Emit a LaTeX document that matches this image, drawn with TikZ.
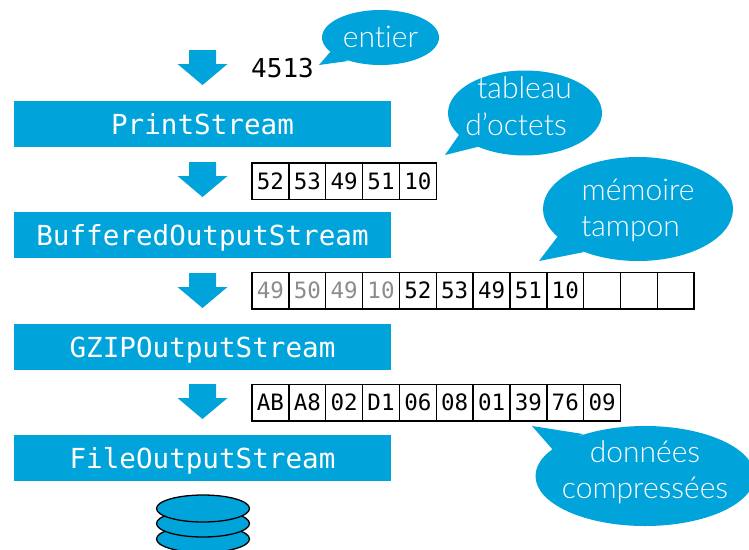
\documentclass[tikz,border=0pt]{standalone}
\usepackage{fontspec}
\setmainfont{Lato Light}[Ligatures=NoCommon]
\setmonofont{DejaVu Sans Mono}
\usetikzlibrary{shapes.geometric}
\definecolor{fillColor}{RGB}{0,163,218}
\definecolor{fadeColor}{RGB}{140,140,140}
\tikzset{
  streambar/.style={fill=fillColor,text=white,inner sep=0pt,text width=377pt,align=center,text height=33.5pt,text depth=12.5pt,
    font=\fontsize{27.6}{30}\selectfont\ttfamily},
  bytecell/.style={draw=black,line width=1.5pt,fill=white,inner sep=0pt,minimum width=36.85pt,minimum height=36.5pt,
    font=\fontsize{22.5}{24}\selectfont\ttfamily},
  bubble/.style={ellipse,fill=fillColor,inner sep=0pt},
  bubbletext/.style={text=white,inner sep=0pt,anchor=base,font=\fontsize{30}{32}\selectfont},
  disk/.style={ellipse,draw=black,line width=1.3pt,fill=fillColor,inner sep=0pt,minimum width=93pt,minimum height=27pt},
}
\begin{document}
\begin{tikzpicture}[x=1pt,y=-1pt]
\useasboundingbox (0,0) rectangle (749,549);
% arrows between the streams
\foreach \ytop in {50,162,273,384}
  \path[fill=fillColor] (189,\ytop) -- (216,\ytop) -- (216,\ytop+14) -- (227.5,\ytop+14)
    -- (202.5,\ytop+35) -- (177.5,\ytop+14) -- (189,\ytop+14) -- cycle;
% streams
\node[streambar] (print) at (202.5,124) {PrintStream};
\node[streambar] (buffered) at (202.5,235) {BufferedOutputStream};
\node[streambar] (gzip) at (202.5,347) {GZIPOutputStream};
\node[streambar] (file) at (202.5,458) {FileOutputStream};
% value
\node[inner sep=0pt,anchor=base west,font=\fontsize{26}{28}\selectfont\ttfamily] (value) at (251,77) {4513};
% byte rows
\foreach \val [count=\i] in {52,53,49,51,10}
  \node[bytecell] (a\i) at (252+36.85*\i-18.4,181) {\val};
\foreach \val/\col [count=\i] in {49/fadeColor,50/fadeColor,49/fadeColor,10/fadeColor,52/black,53/black,49/black,51/black,10/black,/black,/black,/black}
  \node[bytecell,text=\col] (b\i) at (252+36.85*\i-18.4,290.5) {\val};
\foreach \val [count=\i] in {AB,A8,02,D1,06,08,01,39,76,09}
  \node[bytecell] (c\i) at (252+36.85*\i-18.4,402.5) {\val};
% disks
\node[disk] (disk3) at (203,539) {};
\node[disk] (disk2) at (203,523.5) {};
\node[disk] (disk1) at (203,508.5) {};
% speech bubbles
\path[fill=fillColor] (319,65) -- (331,51) -- (348,61) -- cycle;
\node[bubble,minimum width=117pt,minimum height=55pt] (entier) at (380.5,37.5) {};
\node[bubbletext] (entierA) at (380.5,47) {entier};
\path[fill=fillColor] (445,155) -- (461,132) -- (481,146) -- cycle;
\node[bubble,minimum width=154pt,minimum height=85pt] (tableau) at (525,113) {};
\node[bubbletext] (tableauA) at (524.5,98) {tableau};
\node[bubbletext] (tableauB) at (516,135) {d'octets};
\path[fill=fillColor] (539,261) -- (558,236) -- (584,252) -- cycle;
\node[bubble,minimum width=190pt,minimum height=104pt] (memoire) at (638,209) {};
\node[bubbletext] (memoireA) at (638,200) {mémoire};
\node[bubbletext] (memoireB) at (630.5,236) {tampon};
\path[fill=fillColor] (532,426) -- (553,450) -- (583,434) -- cycle;
\node[bubble,minimum width=219pt,minimum height=100pt] (donnees) at (645,476) {};
\node[bubbletext] (donneesA) at (645,462) {données};
\node[bubbletext] (donneesB) at (645,498) {compressées};
\end{tikzpicture}
\end{document}
